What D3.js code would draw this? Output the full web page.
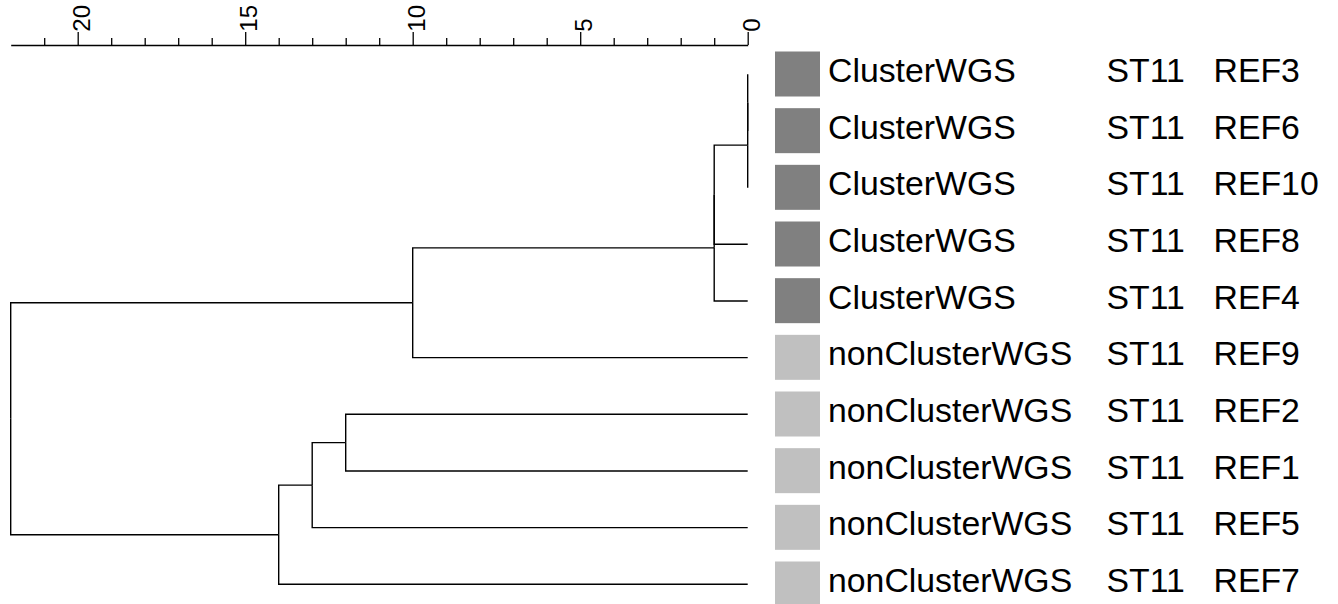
<!DOCTYPE html>
<html>
<head>
<meta charset="utf-8">
<script src="https://cdn.jsdelivr.net/npm/d3@7"></script>
<style>
  html, body { margin: 0; padding: 0; background: #fff; }
  svg { display: block; font-family: "Liberation Sans", Arial, sans-serif; }
</style>
</head>
<body>
<svg id="chart" width="1338" height="604"></svg>
<script>
// Leaves in dendrogram order (top to bottom)
const leafIds    = ["REF3", "REF6", "REF10", "REF8", "REF4", "REF9", "REF2", "REF1", "REF5", "REF7"];
const leafGroups = ["ClusterWGS", "ClusterWGS", "ClusterWGS", "ClusterWGS", "ClusterWGS",
                    "nonClusterWGS", "nonClusterWGS", "nonClusterWGS", "nonClusterWGS", "nonClusterWGS"];
const leafST     = ["ST11", "ST11", "ST11", "ST11", "ST11", "ST11", "ST11", "ST11", "ST11", "ST11"];

// hclust-style merges: negative = leaf (1-based), positive = earlier merge step
const mergeLeft   = [-1, 1, 2, 3, 4, -7, 6, 7, 5];
const mergeRight  = [-2, -3, -4, -5, -6, -8, -9, -10, 8];
const mergeHeight = [0, 0, 1, 1, 10, 12, 13, 14, 22];

const groupNames  = ["ClusterWGS", "nonClusterWGS"];
const groupColors = ["#808080", "#c0c0c0"];

const majorTicks = [0, 5, 10, 15, 20];
const minorTicks = d3.range(1, 22).filter(v => v % 5 !== 0);

const svg = d3.select("#chart");

// Build nested tree from merges
function nodeFor(ref) {
  if (ref < 0) return { name: leafIds[-ref - 1], index: -ref - 1, h: 0 };
  const i = ref - 1;
  return { h: mergeHeight[i], children: [nodeFor(mergeLeft[i]), nodeFor(mergeRight[i])] };
}
const root = d3.hierarchy(nodeFor(mergeHeight.length));

const x = d3.scaleLinear().domain([22, 0]).range([10.7, 747.7]);
const y = d3.scalePoint().domain(leafIds).range([74.3, 584.3]);
const color = d3.scaleOrdinal().domain(groupNames).range(groupColors);

// Positions: leaves at their row, internal nodes at midpoint of children
root.eachAfter(n => {
  n.px = x(n.data.h);
  n.py = n.children ? d3.mean(n.children, c => c.py) : y(n.data.name);
});

// Dendrogram branches
svg.append("g")
  .attr("fill", "none")
  .attr("stroke", "#000")
  .attr("stroke-width", 1.4)
  .selectAll("path")
  .data(root.links())
  .join("path")
  .attr("d", l => `M${l.source.px},${l.source.py}V${l.target.py}H${l.target.px}`);

// Top axis: major ticks with rotated labels
const axisY = 45;
const gAxis = svg.append("g").attr("transform", `translate(0,${axisY})`);
gAxis.call(d3.axisTop(x).tickValues(majorTicks).tickSize(13).tickSizeOuter(0).tickFormat(d3.format("d")));
gAxis.select(".domain").attr("stroke", "#000").attr("stroke-width", 1.3);
gAxis.selectAll(".tick line").attr("stroke", "#000").attr("stroke-width", 1.3);
gAxis.selectAll(".tick text")
  .attr("transform", "rotate(-90)")
  .attr("x", 13.3)
  .attr("y", 11.3)
  .attr("dy", 0)
  .attr("text-anchor", "start")
  .attr("fill", "#000")
  .style("font-size", "24px")
  .style("font-family", "'Liberation Sans', Arial, sans-serif");

// Minor ticks
const gMinor = svg.append("g").attr("transform", `translate(0,${axisY})`);
gMinor.call(d3.axisTop(x).tickValues(minorTicks).tickSize(7).tickSizeOuter(0).tickFormat(""));
gMinor.select(".domain").remove();
gMinor.selectAll(".tick line").attr("stroke", "#000").attr("stroke-width", 1.3);

// Leaf annotations: colour box, group, ST, id
const rows = svg.append("g").selectAll("g")
  .data(leafIds.map((id, i) => ({ id, group: leafGroups[i], st: leafST[i] })))
  .join("g")
  .attr("transform", d => `translate(0,${y(d.id)})`);

rows.append("rect")
  .attr("x", 775).attr("y", -22.8)
  .attr("width", 45).attr("height", 45)
  .attr("fill", d => color(d.group));

const textStyle = sel => sel.attr("y", 7.8).attr("fill", "#000").style("font-size", "33.8px");
rows.append("text").attr("x", 828).text(d => d.group).call(textStyle);
rows.append("text").attr("x", 1106.5).text(d => d.st).call(textStyle);
rows.append("text").attr("x", 1213.5).text(d => d.id).call(textStyle);
</script>
</body>
</html>
